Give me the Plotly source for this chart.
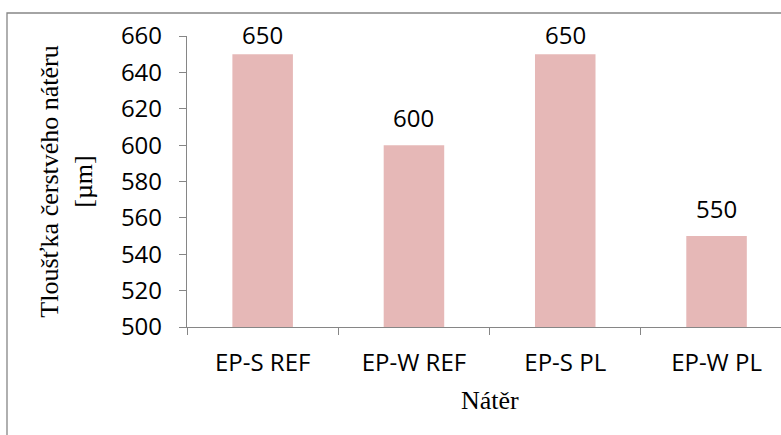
import plotly.graph_objects as go

# Fresh coating thickness per coating system
categories = ["EP-S REF", "EP-W REF", "EP-S PL", "EP-W PL"]
thickness_um = [650, 600, 650, 550]
y_ticks = [500, 520, 540, 560, 580, 600, 620, 640, 660]

W, H = 781, 435
left, top, bottom = 187, 36, 327
y_min, y_max = 500, 660
axis_color = "#868686"
bar_color = "#E6B8B7"
sans = "Open Sans"
serif = "Liberation Serif, Times New Roman, serif"

plot_w = W - left
plot_h = bottom - top

fig = go.Figure()
fig.add_trace(go.Bar(
    x=list(range(len(categories))),
    y=thickness_um,
    base=0,
    marker=dict(color=bar_color, line=dict(width=0)),
    width=0.4,
    hoverinfo="skip",
))

# value labels above each bar, kept inside the top of the chart area
for i, v in enumerate(thickness_um):
    bar_top_px = bottom - (v - y_min) / (y_max - y_min) * plot_h
    label_px = max(bar_top_px - 28, 34)
    fig.add_annotation(x=i, y=v, text=str(v), showarrow=False,
                       yanchor="middle", yshift=bar_top_px - label_px,
                       font=dict(family=sans, size=24, color="#000000"))

# x axis title centred on the category block
fig.add_annotation(x=1.5, y=0, xref="x", yref="paper", text="Nátěr",
                   showarrow=False, yanchor="middle", yshift=-73,
                   font=dict(family=serif, size=26, color="#000000"))

# outer chart frame
fig.add_shape(type="rect", xref="paper", yref="paper",
              x0=(7 - left) / plot_w, x1=(W + 20 - left) / plot_w,
              y0=(bottom - (H + 20)) / plot_h, y1=(bottom - 13) / plot_h,
              line=dict(color=axis_color, width=1.3), fillcolor="rgba(0,0,0,0)",
              layer="below")

fig.update_layout(
    width=W, height=H,
    margin=dict(l=left, r=0, t=top, b=H - bottom, pad=0),
    plot_bgcolor="white", paper_bgcolor="white",
    showlegend=False,
    bargap=0.6,
    xaxis=dict(
        range=[-0.5, -0.5 + plot_w / 151.3],
        tickmode="array", tickvals=list(range(len(categories))), ticktext=categories,
        showgrid=False, zeroline=False,
        showline=True, linecolor=axis_color, linewidth=1.3,
        ticks="", tickfont=dict(family=sans, size=24, color="#000000"),
        ticklabelstandoff=14,
    ),
    xaxis2=dict(
        overlaying="x", matches="x", range=[-0.5, -0.5 + plot_w / 151.3],
        tickmode="array", tickvals=[-0.5, 0.5, 1.5, 2.5, 3.5],
        showticklabels=False, showgrid=False, zeroline=False,
        ticks="outside", ticklen=7, tickcolor=axis_color, tickwidth=1.3,
        side="bottom", anchor="y",
    ),
    yaxis=dict(
        range=[y_min, y_max], tickmode="array", tickvals=y_ticks,
        showgrid=False, zeroline=False,
        showline=True, linecolor=axis_color, linewidth=1.3,
        ticks="outside", ticklen=7, tickcolor=axis_color, tickwidth=1.3,
        tickfont=dict(family=sans, size=24, color="#000000"),
        ticklabelstandoff=12,
        title=dict(text="Tloušťka čerstvého nátěru<br>[µm]",
                   font=dict(family=serif, size=26, color="#000000"),
                   standoff=20),
    ),
)
# invisible trace to attach the boundary ticks axis
fig.add_trace(go.Scatter(x=[0], y=[500], xaxis="x2", mode="markers",
                         marker=dict(opacity=0), hoverinfo="skip"))

fig.write_html("out.html")
